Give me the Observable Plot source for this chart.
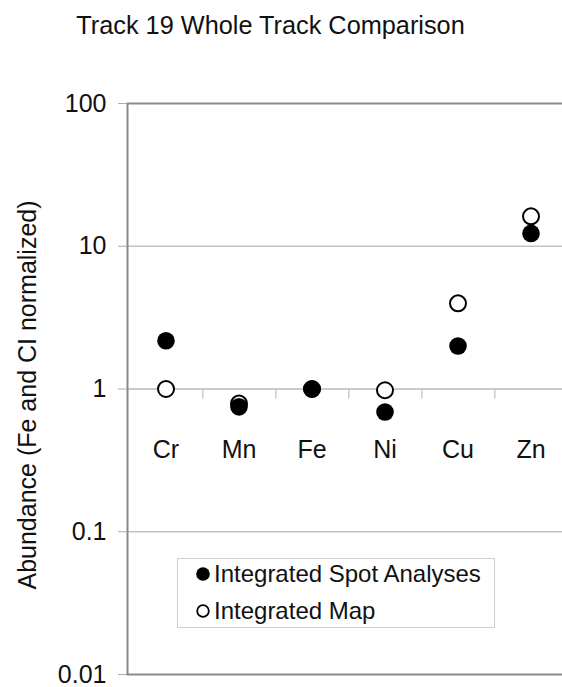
<!DOCTYPE html>
<html>
<head>
<meta charset="utf-8">
<script src="https://cdn.jsdelivr.net/npm/d3@7"></script>
<script src="https://cdn.jsdelivr.net/npm/@observablehq/plot@0.6"></script>
<style>
  html, body { margin: 0; padding: 0; background: #fff; overflow: hidden; }
  #wrap { position: relative; width: 562px; height: 687px; overflow: hidden; font-family: "Liberation Sans", Arial, sans-serif; }
  #wrap svg { overflow: hidden; }
  #legend { position: absolute; left: 177px; top: 558px; width: 318px; height: 70px; border: 1.5px solid #cfcfcf; background: #fff; box-sizing: border-box; }
  .item { position: absolute; left: 0; height: 30px; display: flex; align-items: center; font-size: 24px; color: #111; white-space: nowrap; }
  .item svg { margin-left: 17px; margin-right: 3px; }
</style>
</head>
<body>
<div id="wrap"></div>
<script>
const title = "Track 19 Whole Track Comparison";
const yLabel = "Abundance (Fe and CI normalized)";
const elements = ["Cr", "Mn", "Fe", "Ni", "Cu", "Zn"];
const spotValues = [2.18, 0.75, 1.0, 0.69, 2.0, 12.3];
const mapValues = [1.0, 0.79, 1.0, 0.98, 3.98, 16.2];
const yTicks = [100, 10, 1, 0.1, 0.01];
const gridValues = [10, 0.1];
const seriesNames = ["Integrated Spot Analyses", "Integrated Map"];

const W = 562, H = 687, mL = 127, mR = -7, mT = 103, mB = 13;
const bw = (W - mL - mR) / elements.length;
const pxPerDecade = (H - mT - mB) / 4;
const tickEnd = Math.pow(10, -10 / pxPerDecade);

const spot = elements.map((e, i) => ({el: e, v: spotValues[i]}));
const map = elements.map((e, i) => ({el: e, v: mapValues[i]}));

const chart = Plot.plot({
  width: W, height: H,
  marginLeft: mL, marginRight: mR, marginTop: mT, marginBottom: mB,
  style: {fontFamily: '"Liberation Sans", Arial, sans-serif', background: "white", color: "#111"},
  x: {type: "band", domain: elements, padding: 0, axis: null},
  y: {type: "log", domain: [0.01, 100], axis: null},
  marks: [
    Plot.ruleY(gridValues, {stroke: "#c4c4c4", strokeWidth: 1.3}),
    Plot.ruleY([1], {stroke: "#b8b8b8", strokeWidth: 1.5}),
    Plot.ruleX(elements.slice(0, -1), {x: d => d, dx: bw / 2, y1: 1, y2: tickEnd, stroke: "#c4c4c4", strokeWidth: 1.3}),
    Plot.frame({stroke: "#8a8a8a", strokeWidth: 2}),
    Plot.axisY({ticks: yTicks, tickFormat: d => String(d), tickSize: 9, tickPadding: 12, fontSize: 25, stroke: "#aaa", label: null}),
    Plot.text([yLabel], {frameAnchor: "left", textAnchor: "middle", lineAnchor: "middle", rotate: -90, dx: -100, dy: 6, fontSize: 25, fill: "#111"}),
    Plot.text([title], {frameAnchor: "top", dx: -78, dy: -87, fontSize: 25.3, fill: "#111"}),
    Plot.text(elements, {x: d => d, y: 1, dy: 61, fontSize: 25, fill: "#111"}),
    Plot.dot(map, {x: "el", y: "v", r: 8, fill: "white", stroke: "black", strokeWidth: 2}),
    Plot.dot(spot, {x: "el", y: "v", r: 8.8, fill: "black", stroke: "none"})
  ]
});
const wrap = document.getElementById("wrap");
wrap.appendChild(chart);

const legend = document.createElement("div");
legend.id = "legend";
legend.innerHTML = `
  <div class="item" style="top:0px"><svg width="16" height="16"><circle cx="8" cy="8" r="6.8" fill="black"/></svg>${seriesNames[0]}</div>
  <div class="item" style="top:37px"><svg width="16" height="16"><circle cx="8" cy="8" r="5.8" fill="white" stroke="black" stroke-width="1.8"/></svg>${seriesNames[1]}</div>`;
wrap.appendChild(legend);
</script>
</body>
</html>
